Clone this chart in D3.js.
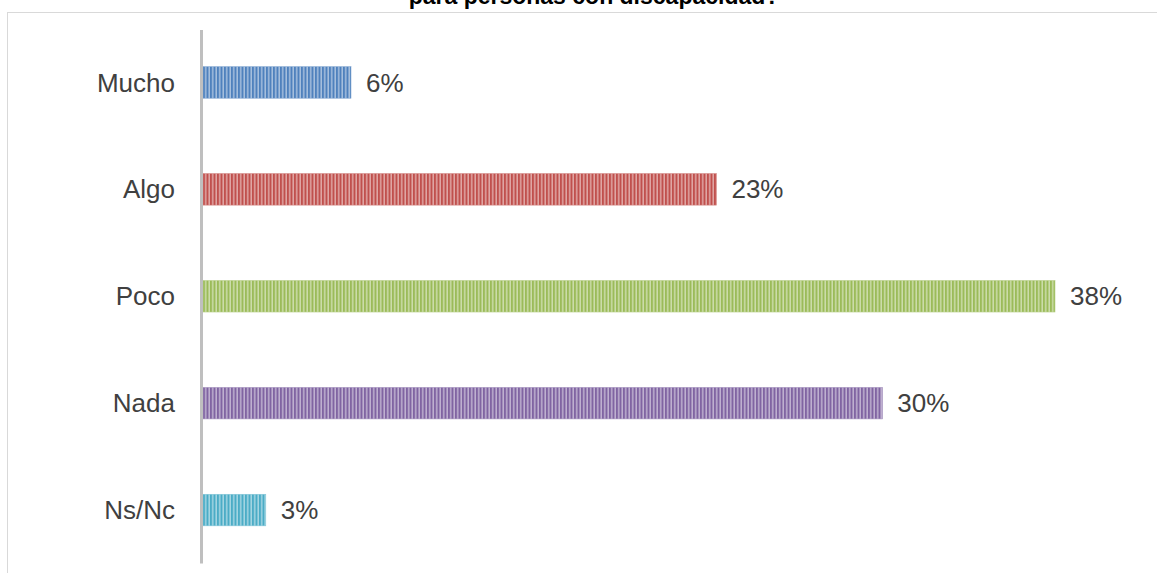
<!DOCTYPE html>
<html>
<head>
<meta charset="utf-8">
<script src="https://cdn.jsdelivr.net/npm/d3@7"></script>
<style>
  body { margin: 0; background: #fff; }
  svg { display: block; }
  .axisLabels { font-family: "Liberation Sans", Arial, sans-serif; font-size: 26px; fill: #404040; }
  .dataLabels { font-family: "Liberation Sans", Arial, sans-serif; font-size: 26px; fill: #404040; }
  .title { font-family: "Liberation Sans", Arial, sans-serif; font-size: 23px; font-weight: bold; fill: #000; }
</style>
</head>
<body>
<svg id="svg-barchart" width="1157" height="573"></svg>
<script>
var svg = d3.select("#svg-barchart");

// data
var categories = ["Mucho", "Algo", "Poco", "Nada", "Ns/Nc"];
var values = [6.6, 22.9, 38, 30.3, 2.8];
var valueLabels = ["6%", "23%", "38%", "30%", "3%"];
var colors = ["#4f81bd", "#c0504d", "#9bbb59", "#8064a2", "#4bacc6"];

var axisX = 203;
var plotTop = 29;
var plotBottom = 563.5;

// chart area border (runs off the page right and bottom)
svg.append("rect")
   .attr("x", 7.5).attr("y", 12.5)
   .attr("width", 1300).attr("height", 700)
   .attr("fill", "none")
   .attr("stroke", "#d9d9d9")
   .attr("stroke-width", 1);

// title, only the last line shows
svg.append("text")
   .attr("class", "title")
   .attr("x", 594)
   .attr("y", 4)
   .attr("text-anchor", "middle")
   .text("para personas con discapacidad?");

// striped fills
var defs = svg.append("defs");
colors.forEach(function(c, i) {
  var pat = defs.append("pattern")
     .attr("id", "stripe" + i)
     .attr("patternUnits", "userSpaceOnUse")
     .attr("width", 3.5).attr("height", 10)
     .attr("x", axisX);
  pat.append("rect").attr("width", 3.5).attr("height", 10).attr("fill", c);
  pat.append("rect").attr("x", 2).attr("width", 1.5).attr("height", 10)
     .attr("fill", d3.interpolateRgb(c, "#ffffff")(0.5));
});

var xScale = d3.scaleLinear()
               .domain([0, 38])
               .range([axisX, 1055]);

var yScale = d3.scaleBand()
               .domain(categories)
               .range([plotTop, plotBottom])
               .paddingInner(0.705)
               .paddingOuter(0.3525);

var dataset = categories.map(function(c, i) {
  return { cat: c, val: values[i], label: valueLabels[i], idx: i };
});

// bars
svg.selectAll("bars")
   .data(dataset)
   .enter()
   .append("rect")
   .attr("class", "bars")
   .attr("x", xScale(0))
   .attr("y", function(d) { return yScale(d.cat); })
   .attr("width", function(d) { return xScale(d.val) - xScale(0); })
   .attr("height", yScale.bandwidth())
   .attr("fill", function(d) { return "url(#stripe" + d.idx + ")"; })
   .attr("stroke", function(d) { return d3.interpolateRgb(colors[d.idx], "#ffffff")(0.3); })
   .attr("stroke-width", 0.6);

// vertical axis line
svg.append("line")
   .attr("x1", axisX - 1.5).attr("x2", axisX - 1.5)
   .attr("y1", plotTop + 1).attr("y2", plotBottom)
   .attr("stroke", "#bfbfbf")
   .attr("stroke-width", 3);

// category labels
svg.selectAll("axisLabels")
   .data(dataset)
   .enter()
   .append("text")
   .attr("class", "axisLabels")
   .attr("x", axisX - 28)
   .attr("y", function(d) { return yScale(d.cat) + yScale.bandwidth() / 2; })
   .attr("dy", "0.35em")
   .attr("text-anchor", "end")
   .text(function(d) { return d.cat; });

// value labels
svg.selectAll("dataLabels")
   .data(dataset)
   .enter()
   .append("text")
   .attr("class", "dataLabels")
   .attr("x", function(d) { return xScale(d.val) + 15; })
   .attr("y", function(d) { return yScale(d.cat) + yScale.bandwidth() / 2; })
   .attr("dy", "0.35em")
   .text(function(d) { return d.label; });
</script>
</body>
</html>
